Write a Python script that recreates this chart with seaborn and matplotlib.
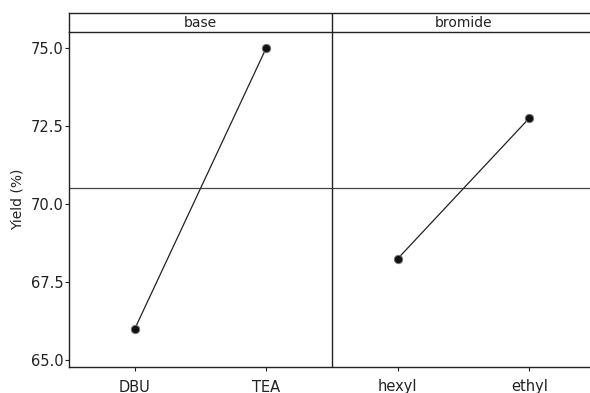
import matplotlib
matplotlib.use("Agg")
import matplotlib.pyplot as plt
import seaborn as sns
import pandas as pd

factors = ["base", "base", "bromide", "bromide"]
levels = ["DBU", "TEA", "hexyl", "ethyl"]
yields = [66.0, 75.0, 68.25, 72.75]
grand_mean = 70.5
panel_titles = ["base", "bromide"]
y_ticks = [65.0, 67.5, 70.0, 72.5, 75.0]

df = pd.DataFrame({"factor": factors, "level": levels, "yield": yields})

sns.set_theme(style="white")
plt.rcParams["font.family"] = ["DejaVu Sans"]

W, H = 590, 393
fig = plt.figure(figsize=(W / 100, H / 100), dpi=100)
L, R = 69, 595
ax = fig.add_axes([L / W, (H - 367) / H, (R - L) / W, (367 - 32) / H])
sax = fig.add_axes([L / W, (H - 32) / H, (R - L) / W, (32 - 13) / H])

ax.axhline(grand_mean, color="#444444", lw=0.9, zorder=1)
sns.lineplot(data=df, x="level", y="yield", units="factor", estimator=None,
             color="#222222", lw=0.9, ax=ax, sort=False, zorder=2)
sns.scatterplot(data=df, x="level", y="yield", color="#111111", s=36,
                edgecolor="#777777", linewidth=0.7, ax=ax, zorder=3)
ax.axvline(1.5, color="#222222", lw=1.0)

ax.set_xlim(-0.5, 3.5)
ax.set_ylim(64.78, 75.51)
ax.set_yticks(y_ticks)
ax.set_yticklabels([f"{v:.1f}" for v in y_ticks])
ax.set_xlabel("")
ax.set_ylabel("Yield (%)", fontsize=10, color="#222222", labelpad=4)
for s in ["top", "right"]:
    ax.spines[s].set_visible(False)
for s in ["left", "bottom"]:
    ax.spines[s].set_color("#222222")
    ax.spines[s].set_linewidth(1.0)
ax.tick_params(axis="both", which="both", direction="out", length=3, width=0.8,
               color="#222222", labelsize=10.5, labelcolor="#222222", pad=1,
               left=True, bottom=True)
ax.tick_params(axis="x", pad=6)

sax.set_xlim(-0.5, 3.5)
sax.set_ylim(0, 1)
sax.set_xticks([])
sax.set_yticks([])
sax.set_facecolor("white")
sax.spines["right"].set_visible(False)
for s in ["top", "left", "bottom"]:
    sax.spines[s].set_color("#222222")
    sax.spines[s].set_linewidth(1.0)
sax.axvline(1.5, color="#222222", lw=1.0)
for i, t in enumerate(panel_titles):
    sax.text(0.5 + 2 * i, 0.45, t, ha="center", va="center", fontsize=10,
             color="#222222")

fig.savefig("out.png", dpi=100)
